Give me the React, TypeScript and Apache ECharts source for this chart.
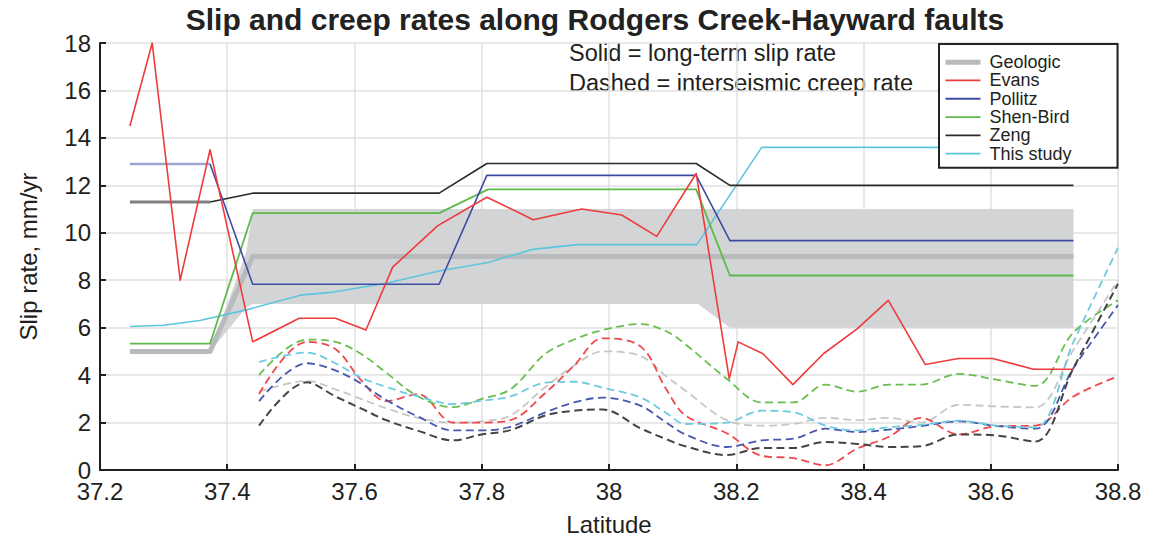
import React, { useEffect, useRef } from "react";
import * as echarts from "echarts";

const TITLE = "Slip and creep rates along Rodgers Creek-Hayward faults";
const NOTE_SOLID = "Solid = long-term slip rate";
const NOTE_DASHED = "Dashed = interseismic creep rate";
const X_NAME = "Latitude";
const Y_NAME = "Slip rate, mm/yr";
const LEGEND_NAMES = ["Geologic", "Evans", "Pollitz", "Shen-Bird", "Zeng", "This study"];

const X_MIN = 37.2;
const X_MAX = 38.8;
const X_STEP = 0.2;
const Y_MIN = 0;
const Y_MAX = 18;
const Y_STEP = 2;

// Geologic band (min / max) and central line
const bandLat = [37.373, 37.43, 37.44, 38.14, 38.19, 38.73];
const bandMin = [5, 6.85, 7, 7, 6, 6];
const bandMax = [5, 9.2, 11, 11, 11, 11];
const geoLat = [37.247, 37.373, 37.44, 38.73];
const geoVal = [5, 5, 9, 9];

// Long-term slip rates (solid)
const evansLat = [37.247, 37.282, 37.326, 37.373, 37.44, 37.513, 37.57, 37.618, 37.66, 37.731, 37.808, 37.881, 37.957, 38.02, 38.075, 38.137, 38.189, 38.203, 38.242, 38.289, 38.337, 38.39, 38.439, 38.497, 38.549, 38.603, 38.667, 38.73];
const evansVal = [14.5, 18.0, 8.0, 13.5, 5.4, 6.4, 6.4, 5.9, 8.55, 10.3, 11.5, 10.55, 11.0, 10.75, 9.85, 12.5, 3.85, 5.4, 4.9, 3.6, 4.9, 5.95, 7.15, 4.45, 4.7, 4.7, 4.25, 4.25];

const pollitzLeftLat = [37.247, 37.373];
const pollitzLeftVal = [12.9, 12.9];
const pollitzLat = [37.373, 37.44, 37.733, 37.808, 38.137, 38.19, 38.73];
const pollitzVal = [12.9, 7.83, 7.83, 12.42, 12.42, 9.67, 9.67];

const shenLat = [37.247, 37.373, 37.44, 37.733, 37.81, 38.137, 38.19, 38.73];
const shenVal = [5.33, 5.33, 10.83, 10.83, 11.83, 11.83, 8.2, 8.2];

const zengLeftLat = [37.247, 37.373];
const zengLeftVal = [11.3, 11.3];
const zengLat = [37.373, 37.44, 37.733, 37.808, 38.137, 38.19, 38.73];
const zengVal = [11.3, 11.67, 11.67, 12.92, 12.92, 12.0, 12.0];

const studyLat = [37.247, 37.3, 37.357, 37.43, 37.515, 37.567, 37.65, 37.735, 37.81, 37.88, 37.95, 38.138, 38.24, 38.5, 38.73];
const studyVal = [6.05, 6.1, 6.3, 6.75, 7.37, 7.5, 7.87, 8.4, 8.75, 9.3, 9.5, 9.5, 13.6, 13.6, 13.55];

// Interseismic creep rates (dashed)
const creepLat = [37.45, 37.525, 37.57, 37.61, 37.65, 37.7, 37.755, 37.8, 37.845, 37.9, 37.945, 37.99, 38.05, 38.09, 38.12, 38.185, 38.24, 38.29, 38.34, 38.39, 38.44, 38.49, 38.55, 38.61, 38.67, 38.73, 38.8];
const creepGeologic = [3.3, 3.75, 3.4, 3.0, 2.6, 2.2, 2.0, 2.05, 2.3, 3.5, 4.4, 5.0, 4.8, 3.95, 3.35, 2.1, 1.87, 1.94, 2.2, 2.1, 2.2, 2.0, 2.75, 2.68, 2.64, 5.07, 8.0];
const creepEvans = [3.2, 5.4, 5.1, 3.8, 2.9, 3.2, 2.0, 2.0, 2.1, 3.25, 4.4, 5.55, 5.2, 3.4, 2.3, 1.55, 0.6, 0.5, 0.2, 0.9, 1.4, 2.2, 1.5, 1.85, 1.87, 3.1, 3.95];
const creepPollitz = [2.9, 4.5, 4.2, 3.65, 2.95, 2.25, 1.67, 1.67, 1.82, 2.43, 2.85, 3.05, 2.7, 2.0, 1.5, 0.97, 1.25, 1.32, 1.74, 1.6, 1.7, 1.85, 2.05, 1.85, 1.74, 4.3, 6.95];
const creepShen = [4.0, 5.5, 5.4, 4.9, 4.1, 3.1, 2.65, 3.0, 3.4, 4.9, 5.5, 5.9, 6.15, 5.85, 5.3, 3.85, 2.85, 2.85, 3.6, 3.3, 3.6, 3.6, 4.05, 3.8, 3.55, 5.8, 7.15];
const creepZeng = [1.87, 3.7, 3.1, 2.6, 2.1, 1.65, 1.25, 1.5, 1.68, 2.3, 2.5, 2.55, 1.75, 1.3, 1.0, 0.63, 0.93, 0.93, 1.18, 1.1, 0.97, 1.0, 1.5, 1.45, 1.2, 4.3, 7.85];
const creepStudy = [4.55, 4.95, 4.5, 3.9, 3.5, 3.1, 2.78, 2.92, 3.1, 3.68, 3.72, 3.47, 3.05, 2.4, 1.94, 2.0, 2.5, 2.43, 1.87, 1.67, 1.8, 1.9, 2.08, 1.87, 1.8, 5.4, 9.37];

const FONT = "'Liberation Sans', Arial, Helvetica, sans-serif";
const INK = "#231f20";

const pairs = (xs: number[], ys: number[]) => xs.map((x, i) => [x, ys[i]]);

function lineSeries(
  name: string,
  xs: number[],
  ys: number[],
  color: string,
  width: number,
  dashed = false,
  smooth: number | boolean = false
) {
  return {
    type: "line",
    name,
    data: pairs(xs, ys),
    symbol: "none",
    showSymbol: false,
    smooth,
    silent: true,
    color,
    itemStyle: { color },
    lineStyle: {
      color,
      width,
      type: dashed ? [8, 4.5] : "solid",
      cap: "butt",
      join: "round",
    },
  };
}

export default function App() {
  const ref = useRef<HTMLDivElement>(null);

  useEffect(() => {
    if (!ref.current) return;
    const chart = echarts.init(ref.current, undefined, { renderer: "svg" });

    const bandData = bandLat.map((x, i) => [x, bandMin[i], bandMax[i]]);

    const option: any = {
      animation: false,
      backgroundColor: "#ffffff",
      textStyle: { fontFamily: FONT },
      grid: { left: 100, right: 53, top: 43, bottom: 66, containLabel: false },
      xAxis: {
        type: "value",
        min: X_MIN,
        max: X_MAX,
        interval: X_STEP,
        name: X_NAME,
        nameLocation: "middle",
        nameGap: 42,
        nameTextStyle: { fontSize: 24, color: INK, fontFamily: FONT },
        axisLine: { show: true, onZero: false, lineStyle: { color: INK, width: 2 } },
        axisTick: { show: true, inside: true, length: 6, lineStyle: { color: INK, width: 2 } },
        axisLabel: { fontSize: 24, lineHeight: 20, color: INK, margin: 11, fontFamily: FONT },
        splitLine: { show: true, lineStyle: { color: "#e1e1e1", width: 1.5 } },
      },
      yAxis: {
        type: "value",
        min: Y_MIN,
        max: Y_MAX,
        interval: Y_STEP,
        name: Y_NAME,
        nameLocation: "middle",
        nameRotate: 90,
        nameGap: 60,
        nameTextStyle: { fontSize: 24, color: INK, fontFamily: FONT },
        axisLine: { show: true, lineStyle: { color: INK, width: 2 } },
        axisTick: { show: true, inside: true, length: 6, lineStyle: { color: INK, width: 2 } },
        axisLabel: { fontSize: 24, lineHeight: 18, color: INK, margin: 9, fontFamily: FONT, padding: [0, 0, 4, 0] },
        splitLine: { show: true, lineStyle: { color: "#e1e1e1", width: 1.5 } },
      },
      legend: {
        orient: "vertical",
        left: 939,
        top: 44,
        data: LEGEND_NAMES.map((name, i) => ({
          name,
          lineStyle: { width: i === 0 ? 5 : 1.8 },
        })),
        itemWidth: 35,
        itemHeight: 14,
        itemGap: 0,
        padding: [9, 46, 5, 4],
        backgroundColor: "#ffffff",
        borderColor: "#222222",
        borderWidth: 2,
        borderRadius: 0,
        selectedMode: false,
        itemStyle: { opacity: 0, borderWidth: 0 },
        textStyle: { fontSize: 18, lineHeight: 18.3, color: INK, fontFamily: FONT, padding: [0, 0, 0, 4] },
      },
      graphic: [
        {
          type: "text",
          x: 595,
          y: 4,
          style: {
            text: TITLE,
            fill: "#222222",
            font: `bold 30px ${FONT}`,
            textAlign: "center",
            textVerticalAlign: "top",
          },
        },
        {
          type: "text",
          x: 569,
          y: 41,
          style: { text: NOTE_SOLID, fill: INK, font: `23.5px ${FONT}`, textVerticalAlign: "top" },
        },
        {
          type: "text",
          x: 569,
          y: 71,
          style: { text: NOTE_DASHED, fill: INK, font: `23.5px ${FONT}`, textVerticalAlign: "top" },
        },
      ],
      series: [
        {
          type: "custom",
          name: "Geologic range",
          silent: true,
          data: bandData,
          encode: { x: 0, y: [1, 2] },
          renderItem: (params: any, api: any) => {
            if (params.dataIndex !== 0) return null;
            const pts: number[][] = [];
            for (let i = 0; i < bandData.length; i++) pts.push(api.coord([bandData[i][0], bandData[i][2]]));
            for (let i = bandData.length - 1; i >= 0; i--) pts.push(api.coord([bandData[i][0], bandData[i][1]]));
            return { type: "polygon", shape: { points: pts }, style: { fill: "#d3d4d6", stroke: "none" } };
          },
        },
        lineSeries("Geologic", geoLat, geoVal, "#b9babc", 5),
        lineSeries("Geologic creep", creepLat, creepGeologic, "#c6c6c6", 1.8, true, 0.35),
        lineSeries("Evans creep", creepLat, creepEvans, "#f0474b", 1.8, true, 0.35),
        lineSeries("Pollitz creep", creepLat, creepPollitz, "#4857ad", 1.8, true, 0.35),
        lineSeries("Shen-Bird creep", creepLat, creepShen, "#69be4f", 1.8, true, 0.35),
        lineSeries("Zeng creep", creepLat, creepZeng, "#444444", 2, true, 0.35),
        lineSeries("This study creep", creepLat, creepStudy, "#6ccbe0", 1.8, true, 0.35),
        lineSeries("Pollitz early", pollitzLeftLat, pollitzLeftVal, "#9ea4d2", 2.5),
        lineSeries("Zeng early", zengLeftLat, zengLeftVal, "#808080", 3),
        lineSeries("This study", studyLat, studyVal, "#5cc6df", 1.6),
        lineSeries("Shen-Bird", shenLat, shenVal, "#5dbb4a", 1.8),
        lineSeries("Zeng", zengLat, zengVal, "#2b2b2b", 1.6),
        lineSeries("Pollitz", pollitzLat, pollitzVal, "#3e4da3", 1.6),
        lineSeries("Evans", evansLat, evansVal, "#ee3b3b", 1.6),
      ],
    };

    chart.setOption(option);
    return () => chart.dispose();
  }, []);

  return (
    <div
      ref={ref}
      style={{ position: "fixed", left: 0, top: 0, width: 1171, height: 541, background: "#fff" }}
    />
  );
}
